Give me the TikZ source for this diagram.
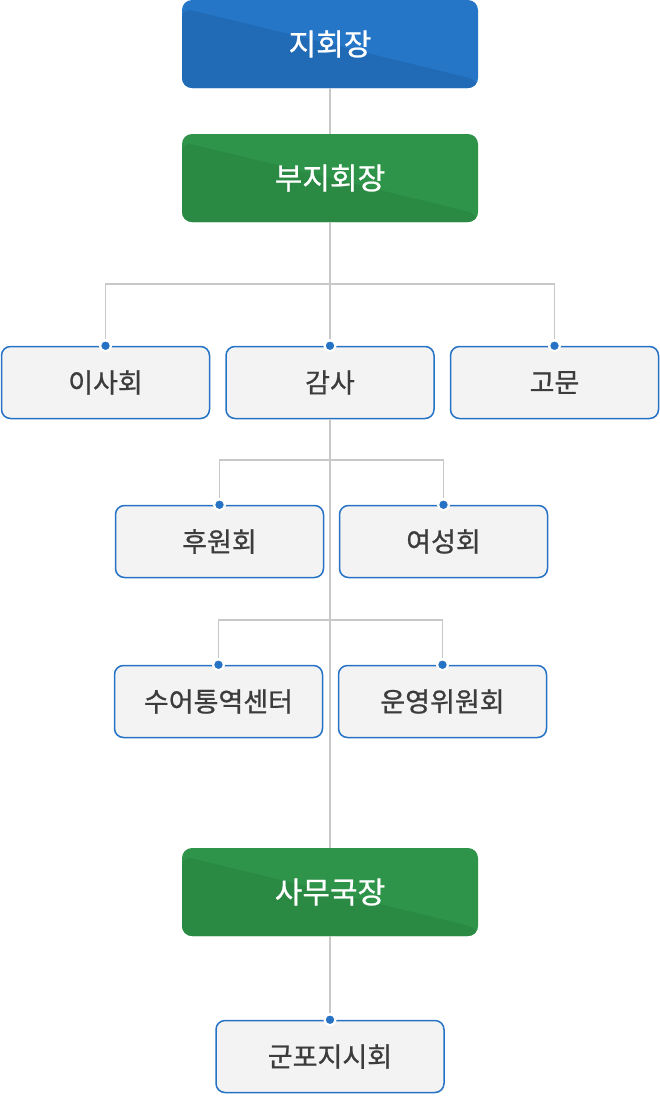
\documentclass[tikz,border=0pt]{standalone}
\usepackage{fontspec}
\setmainfont{Noto Sans CJK KR}
\newfontfamily\orgfont{Noto Sans CJK KR}[FakeBold=0.8]
\usetikzlibrary{positioning}
\definecolor{orgblue}{RGB}{37,118,199}
\definecolor{orgbluedark}{RGB}{33,106,182}
\definecolor{orggreen}{RGB}{46,148,73}
\definecolor{orggreendark}{RGB}{42,137,66}
\definecolor{orgline}{RGB}{200,200,200}
\definecolor{orgborder}{RGB}{38,114,196}
\definecolor{orgfill}{RGB}{243,243,243}
\definecolor{orgtext}{RGB}{60,60,60}

\begin{document}
\begin{tikzpicture}[x=1pt, y=-1pt,
                    chief/.style = {
                      rectangle, rounded corners=10pt,
                      minimum width=296pt, minimum height=88pt,
                      text=white, font=\orgfont\fontsize{30}{34}\selectfont
                    },
                    bluehead/.style = {
                      chief, fill=orgblue,
                      path picture={\fill[orgbluedark]
                        ([yshift=-8pt]path picture bounding box.north west) --
                        ([yshift=8pt]path picture bounding box.south east) --
                        (path picture bounding box.south east) --
                        (path picture bounding box.south west) -- cycle;}
                    },
                    greenhead/.style = {
                      chief, fill=orggreen,
                      path picture={\fill[orggreendark]
                        ([yshift=-8pt]path picture bounding box.north west) --
                        ([yshift=8pt]path picture bounding box.south east) --
                        (path picture bounding box.south east) --
                        (path picture bounding box.south west) -- cycle;}
                    },
                    unit/.style = {
                      rectangle, rounded corners=9pt,
                      minimum width=208pt, minimum height=72pt,
                      draw=orgborder, line width=1.5pt, fill=orgfill,
                      text=orgtext, font=\orgfont\fontsize{27}{31}\selectfont
                    },
                    link/.style = {draw=orgline, line width=1.8pt},
                    dot/.style = {circle, inner sep=0pt, minimum size=11pt,
                      fill=orgborder, draw=white, line width=2.2pt}]
    \useasboundingbox (0,0) rectangle (660,1117);

    \node (jihoejang) [bluehead] at (330,44) {지회장};
    \node (bujihoejang) [greenhead] at (330,178) {부지회장};

    \node (isahoe) [unit] at (105.5,382.5) {이사회};
    \node (gamsa) [unit] at (330,382.5) {감사};
    \node (gomun) [unit] at (554.5,382.5) {고문};

    \node (huwonhoe) [unit] at (219.5,541.5) {후원회};
    \node (yeoseonghoe) [unit] at (443.5,541.5) {여성회};

    \node (sueo) [unit] at (218.5,701.5) {수어통역센터};
    \node (unyeong) [unit] at (442.5,701.5) {운영위원회};

    \node (samugukjang) [greenhead] at (330,892) {사무국장};
    \node (gunpo) [unit, minimum width=228pt] at (330,1056.5) {군포지시회};

    % branch points on the trunk
    \coordinate (fork1) at (330,284);
    \coordinate (fork2) at (330,460);
    \coordinate (fork3) at (330,620);

    \path[link] (jihoejang.south) -- (bujihoejang.north);
    \path[link] (bujihoejang.south) -- (gamsa.north);
    \path[link] (fork1) -| (isahoe.north);
    \path[link] (fork1) -| (gomun.north);
    \path[link] (gamsa.south) -- (samugukjang.north);
    \path[link] (fork2) -| (huwonhoe.north);
    \path[link] (fork2) -| (yeoseonghoe.north);
    \path[link] (fork3) -| (sueo.north);
    \path[link] (fork3) -| (unyeong.north);
    \path[link] (samugukjang.south) -- (gunpo.north);

    \foreach \n in {isahoe,gamsa,gomun,huwonhoe,yeoseonghoe,sueo,unyeong,gunpo}
      \node[dot] at (\n.north) {};
  \end{tikzpicture}
\end{document}
